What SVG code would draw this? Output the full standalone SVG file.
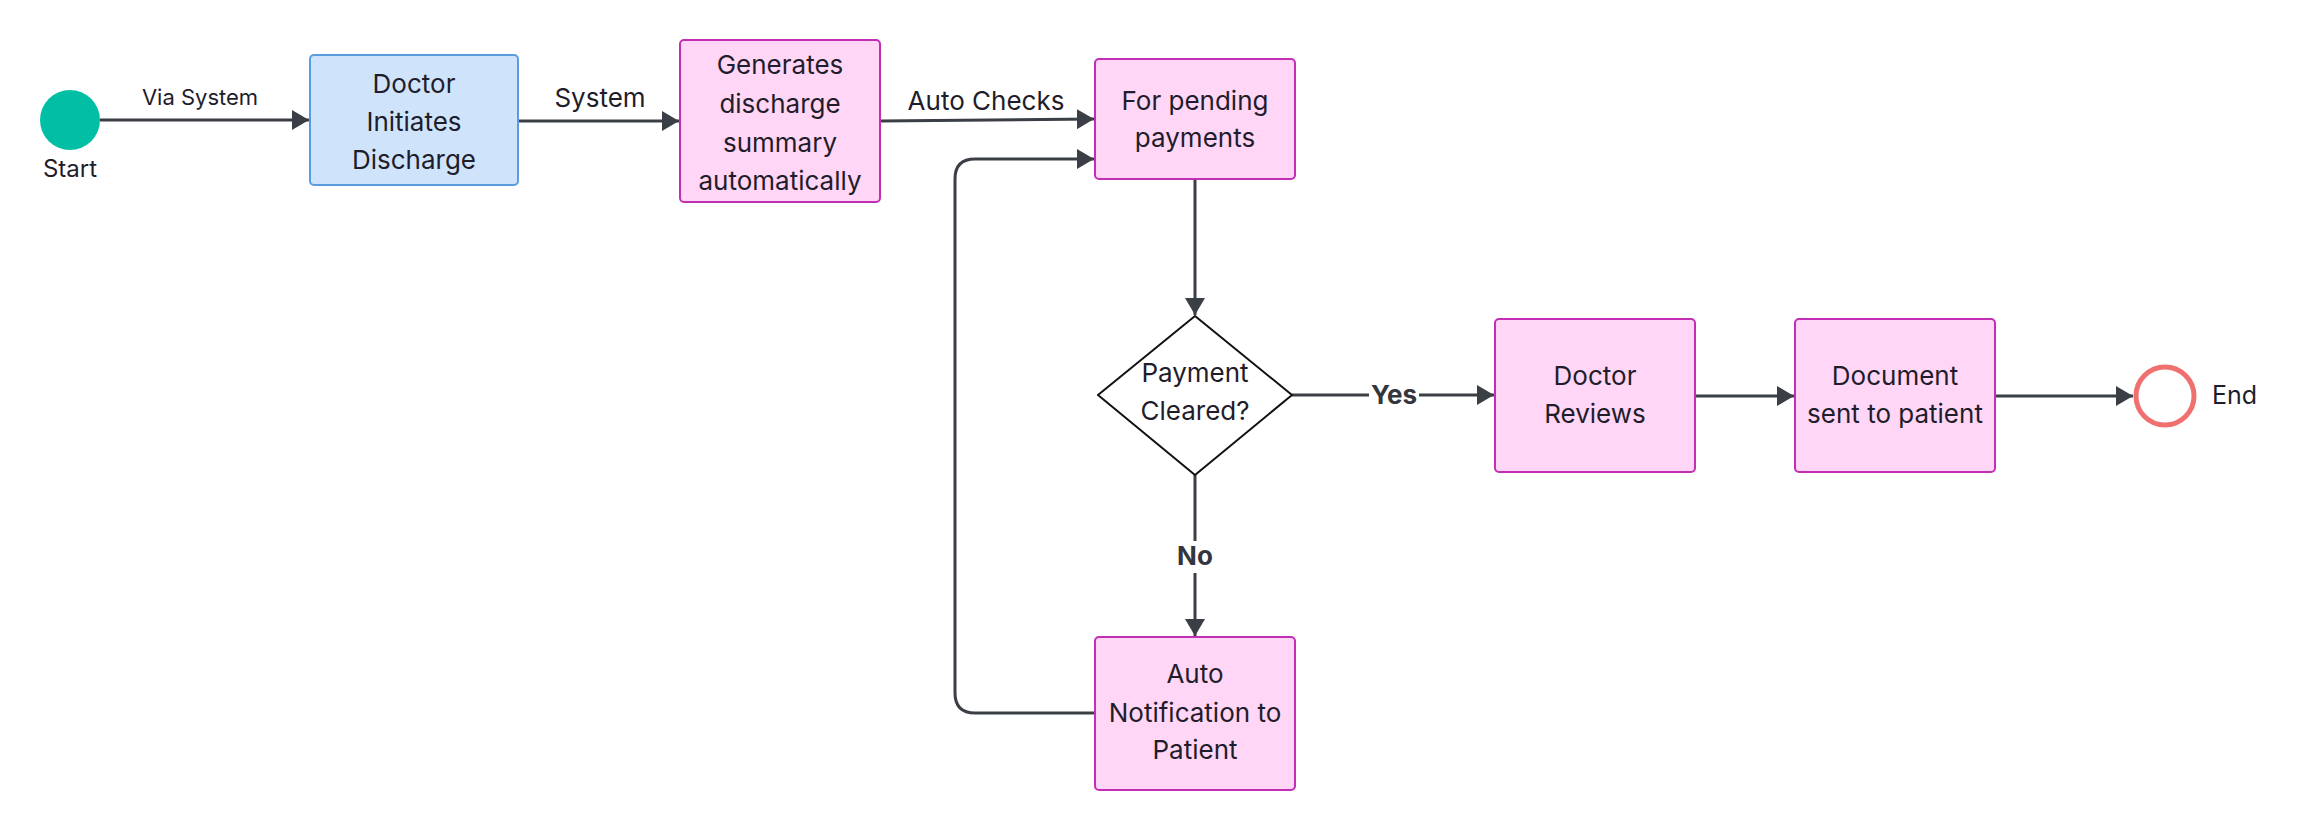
<svg xmlns="http://www.w3.org/2000/svg" width="2316" height="831" viewBox="0 0 2316 831">
<style>
text{font-family:Inter,"Noto Sans","Liberation Sans",sans-serif;fill:#1f1d2b;text-anchor:middle}
.n{font-size:26px}
.lbl{font-size:26px}
.sm{font-size:22px}
.b{font-size:26px;font-weight:700;fill:#33363d}
.pink{fill:#ffd6f6;stroke:#c22fb4;stroke-width:2}
.blue{fill:#cfe4fb;stroke:#5b9be0;stroke-width:2}
.edge{fill:none;stroke:#3a3e45;stroke-width:3}
</style>
<defs>
<marker id="arr" markerUnits="userSpaceOnUse" markerWidth="18" markerHeight="20" refX="17" refY="10" orient="auto">
<path d="M0,0 L17,10 L0,20 z" fill="#3a3e45"/>
</marker>
</defs>
<rect width="2316" height="831" fill="#ffffff"/>
<g id="connectors">
<path class="edge" d="M100,120 L309,120" marker-end="url(#arr)"/>
<path class="edge" d="M518,121 L679,121" marker-end="url(#arr)"/>
<path class="edge" d="M880,121 L1094,119" marker-end="url(#arr)"/>
<path class="edge" d="M1195,179 L1195,315" marker-end="url(#arr)"/>
<path class="edge" d="M1292,395 L1494,395" marker-end="url(#arr)"/>
<path class="edge" d="M1695,396 L1794,396" marker-end="url(#arr)"/>
<path class="edge" d="M1995,396 L2133,396" marker-end="url(#arr)"/>
<path class="edge" d="M1195,475 L1195,636" marker-end="url(#arr)"/>
<path class="edge" d="M1095,713 L975,713 Q955,713 955,693 L955,179 Q955,159 975,159 L1094,159" marker-end="url(#arr)"/>
<text class="sm" x="200" y="105">Via System</text>
<text class="lbl" x="600" y="107">System</text>
<text class="lbl" x="986" y="110">Auto Checks</text>
<rect x="1369" y="378" width="50" height="34" fill="#ffffff"/>
<text class="b" x="1394" y="404">Yes</text>
<rect x="1175" y="541" width="40" height="32" fill="#ffffff"/>
<text class="b" x="1195" y="565">No</text>
</g>
<g id="start">
<circle cx="70" cy="120" r="30" fill="#00bfa5"/>
<text x="70" y="177" style="font-size:24px">Start</text>
</g>
<g id="doctor-initiates">
<rect class="blue" x="310" y="55" width="208" height="130" rx="4"/>
<text class="n" x="414" y="93">Doctor</text>
<text class="n" x="414" y="131">Initiates</text>
<text class="n" x="414" y="169">Discharge</text>
</g>
<g id="generates">
<rect class="pink" x="680" y="40" width="200" height="162" rx="4"/>
<text class="n" x="780" y="74">Generates</text>
<text class="n" x="780" y="113">discharge</text>
<text class="n" x="780" y="152">summary</text>
<text class="n" x="780" y="190">automatically</text>
</g>
<g id="pending">
<rect class="pink" x="1095" y="59" width="200" height="120" rx="4"/>
<text class="n" x="1195" y="110">For pending</text>
<text class="n" x="1195" y="147">payments</text>
</g>
<g id="decision">
<polygon points="1195,316 1292,395 1195,475 1098,395" fill="#ffffff" stroke="#111111" stroke-width="2" stroke-linejoin="round"/>
<text class="n" x="1195" y="382">Payment</text>
<text class="n" x="1195" y="420">Cleared?</text>
</g>
<g id="doctor-reviews">
<rect class="pink" x="1495" y="319" width="200" height="153" rx="4"/>
<text class="n" x="1595" y="385">Doctor</text>
<text class="n" x="1595" y="423">Reviews</text>
</g>
<g id="document">
<rect class="pink" x="1795" y="319" width="200" height="153" rx="4"/>
<text class="n" x="1895" y="385">Document</text>
<text class="n" x="1895" y="423">sent to patient</text>
</g>
<g id="notification">
<rect class="pink" x="1095" y="637" width="200" height="153" rx="4"/>
<text class="n" x="1195" y="683">Auto</text>
<text class="n" x="1195" y="722">Notification to</text>
<text class="n" x="1195" y="759">Patient</text>
</g>
<g id="end">
<circle cx="2165" cy="396" r="29" fill="#ffffff" stroke="#f07070" stroke-width="5"/>
<text x="2212" y="404" style="font-size:25px;text-anchor:start">End</text>
</g>
</svg>
